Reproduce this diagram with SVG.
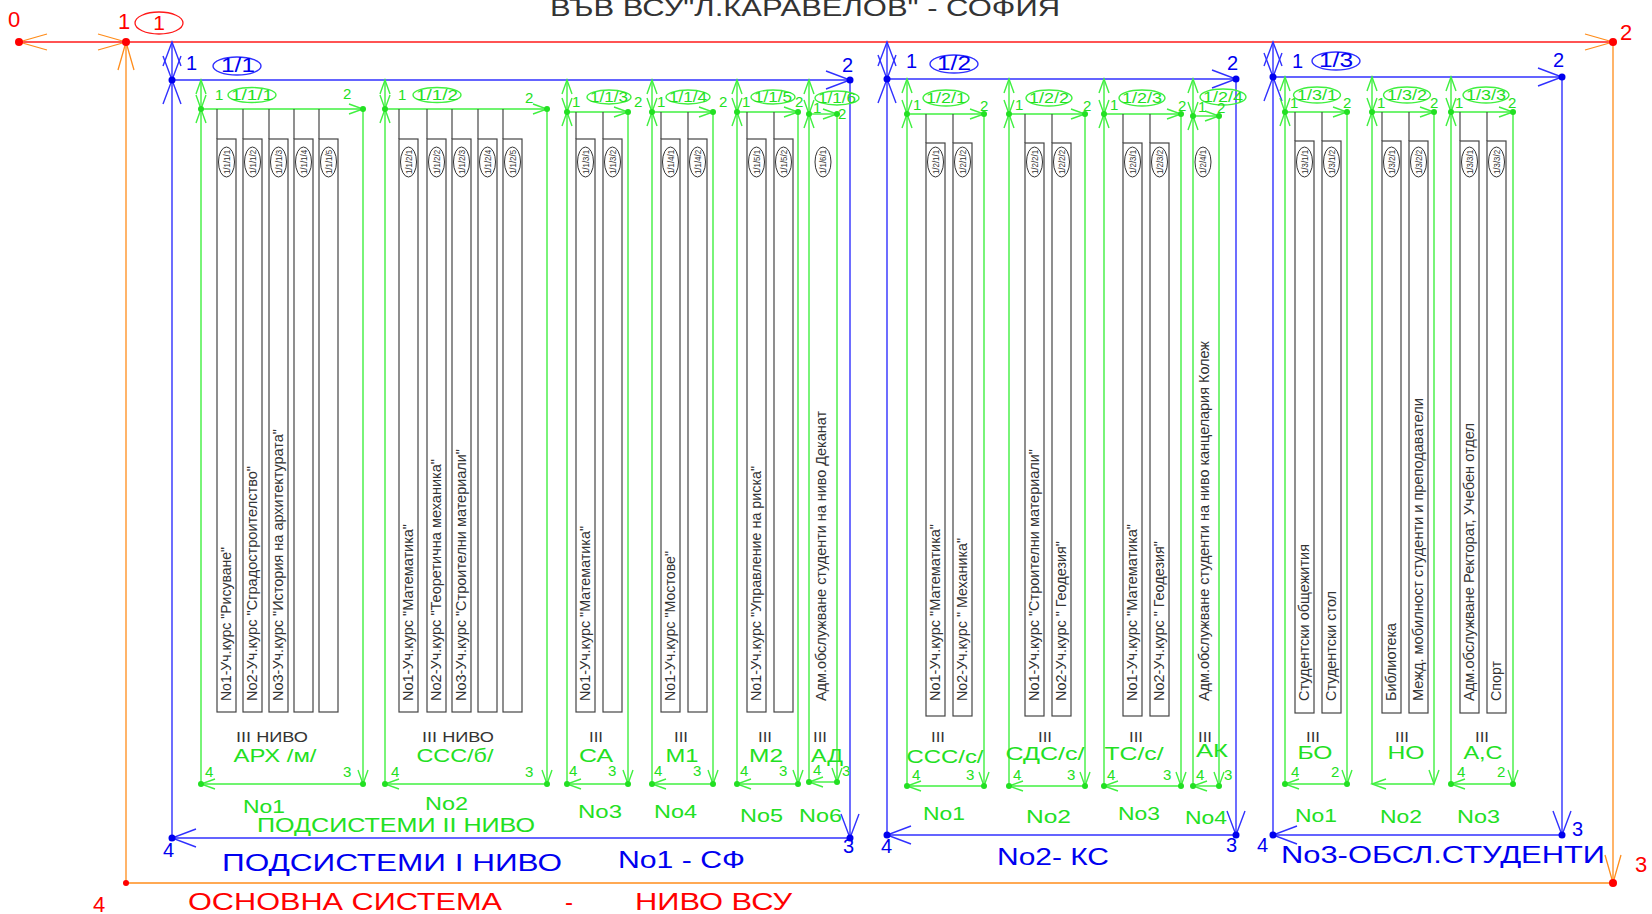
<svg xmlns="http://www.w3.org/2000/svg" width="1652" height="914" viewBox="0 0 1652 914">
<style>
.r{stroke:#ff1a1a;fill:none;stroke-width:1.3}
.o{stroke:#ff8c1a;fill:none;stroke-width:1.3}
.b{stroke:#3030ff;fill:none;stroke-width:1.4}
.g{stroke:#40f040;fill:none;stroke-width:1.4}
.k{stroke:#454545;fill:none;stroke-width:1.2}
.ke{stroke:#333;fill:none;stroke-width:1}
text{font-family:"Liberation Sans",Arial,sans-serif}
.tr{fill:#ff0000;font-size:24px}
.tb{fill:#0000f0;font-size:24px}
.tb2{fill:#0000f0;font-size:20px}
.tg{fill:#22e022;font-size:19px}
.tg2{fill:#22e022;font-size:15px}
.tk{fill:#333;font-size:15px}
.tv{fill:#333;font-size:15.5px}
.te{fill:#333;font-size:9px}
.dg{fill:#22e022}.db{fill:#0000ee}.dr{fill:#ff0000}
.m{text-anchor:middle}
</style>
<defs>
<marker id="ao" viewBox="-30 -10 32 20" refX="0" refY="0" markerWidth="32" markerHeight="20" markerUnits="userSpaceOnUse" orient="auto-start-reverse"><path d="M-28,-8 L0,0 L-28,8" class="o"/></marker>
<marker id="ab" viewBox="-26 -11 28 22" refX="0" refY="0" markerWidth="28" markerHeight="22" markerUnits="userSpaceOnUse" orient="auto-start-reverse"><path d="M-24,-9 L0,0 L-24,9" class="b"/></marker>
<marker id="ag" viewBox="-16 -7 18 14" refX="0" refY="0" markerWidth="18" markerHeight="14" markerUnits="userSpaceOnUse" orient="auto-start-reverse"><path d="M-14,-5 L0,0 L-14,5" class="g"/></marker>
</defs>
<rect width="1652" height="914" fill="#fff"/>

<g id="title">
<text x="550" y="16" style="fill:#333;font-size:24px" textLength="510" lengthAdjust="spacingAndGlyphs">ВЪВ ВСУ"Л.КАРАВЕЛОВ" - СОФИЯ</text>
</g>

<g id="node-main">
<path class="r" d="M19,42 H126" marker-start="url(#ao)" marker-end="url(#ao)"/>
<path class="r" d="M126,42 H1613" marker-end="url(#ao)"/>
<path class="o" d="M1613,42 V883" marker-end="url(#ao)"/>
<path class="o" d="M1613,883 H126"/>
<path class="o" d="M126,883 V42" marker-end="url(#ao)"/>
<circle class="dr" cx="19" cy="42" r="4"/><circle class="dr" cx="126" cy="42" r="4"/><circle class="dr" cx="1613" cy="42" r="4"/><circle class="dr" cx="1613" cy="883" r="4"/><circle class="dr" cx="126" cy="883" r="3"/>
<text class="tr" x="8" y="27" style="font-size:22px">0</text>
<text class="tr" x="118" y="29" style="font-size:22px">1</text>
<ellipse class="r" cx="159" cy="23" rx="24" ry="11"/>
<text class="tr m" x="159" y="30" style="font-size:21px">1</text>
<text class="tr" x="1620" y="40" style="font-size:22px">2</text>
<text class="tr" x="1635" y="872" style="font-size:22px">3</text>
<text class="tr" x="93" y="912" style="font-size:22px">4</text>
<text class="tr" x="188" y="910" textLength="314" lengthAdjust="spacingAndGlyphs">ОСНОВНА СИСТЕМА</text>
<text class="tr" x="565" y="910">-</text>
<text class="tr" x="635" y="910" textLength="157" lengthAdjust="spacingAndGlyphs">НИВО ВСУ</text>
</g>

<g id="node-1-1">
<path class="b" d="M172,42 V80" marker-start="url(#ab)" marker-end="url(#ab)"/>
<path class="b" d="M172,80 H850" marker-end="url(#ab)"/>
<path class="b" d="M850,80 V838" marker-end="url(#ab)"/>
<path class="b" d="M850,838 H172" marker-end="url(#ab)"/>
<path class="b" d="M172,838 V80" marker-end="url(#ab)"/>
<circle class="db" cx="172" cy="80" r="3.5"/><circle class="db" cx="850" cy="80" r="3.5"/><circle class="db" cx="850" cy="838" r="3.5"/><circle class="db" cx="172" cy="838" r="3.5"/>
<text class="tb2" x="186" y="70">1</text>
<ellipse class="b" cx="237" cy="66" rx="24" ry="9"/>
<text class="tb2 m" x="238" y="72" textLength="34" lengthAdjust="spacingAndGlyphs">1/1</text>
<text class="tb2" x="842" y="72">2</text>
<text class="tb2" x="843" y="853">3</text>
<text class="tb2" x="163" y="857">4</text>
<text class="tb" x="222" y="871" textLength="340" lengthAdjust="spacingAndGlyphs">ПОДСИСТЕМИ  I НИВО</text>
<text class="tb" x="618" y="868" textLength="127" lengthAdjust="spacingAndGlyphs">No1 - СФ</text>
<text class="tg" x="257" y="832" style="font-size:20px" textLength="278" lengthAdjust="spacingAndGlyphs">ПОДСИСТЕМИ  II НИВО</text>
</g>

<g id="node-1-2">
<path class="b" d="M887,42 V79" marker-start="url(#ab)" marker-end="url(#ab)"/>
<path class="b" d="M887,79 H1236" marker-end="url(#ab)"/>
<path class="b" d="M1236,79 V835" marker-end="url(#ab)"/>
<path class="b" d="M1236,835 H887" marker-end="url(#ab)"/>
<path class="b" d="M887,835 V79" marker-end="url(#ab)"/>
<circle class="db" cx="887" cy="79" r="3.5"/><circle class="db" cx="1236" cy="79" r="3.5"/><circle class="db" cx="1236" cy="835" r="3.5"/><circle class="db" cx="887" cy="835" r="3.5"/>
<text class="tb2" x="906" y="68">1</text>
<ellipse class="b" cx="954" cy="64" rx="24" ry="9"/>
<text class="tb2 m" x="954" y="70" textLength="34" lengthAdjust="spacingAndGlyphs">1/2</text>
<text class="tb2" x="1227" y="70">2</text>
<text class="tb2" x="1226" y="852">3</text>
<text class="tb2" x="881" y="853">4</text>
<text class="tb" x="997" y="865" textLength="112" lengthAdjust="spacingAndGlyphs">No2- КС</text>
</g>

<g id="node-1-3">
<path class="b" d="M1273,42 V77" marker-start="url(#ab)" marker-end="url(#ab)"/>
<path class="b" d="M1273,77 H1562" marker-end="url(#ab)"/>
<path class="b" d="M1562,77 V835" marker-end="url(#ab)"/>
<path class="b" d="M1562,835 H1273" marker-end="url(#ab)"/>
<path class="b" d="M1273,835 V77" marker-end="url(#ab)"/>
<circle class="db" cx="1273" cy="77" r="3.5"/><circle class="db" cx="1562" cy="77" r="3.5"/><circle class="db" cx="1562" cy="835" r="3.5"/><circle class="db" cx="1273" cy="835" r="3.5"/>
<text class="tb2" x="1292" y="68">1</text>
<ellipse class="b" cx="1336" cy="61" rx="24" ry="9"/>
<text class="tb2 m" x="1336" y="67" textLength="34" lengthAdjust="spacingAndGlyphs">1/3</text>
<text class="tb2" x="1553" y="67">2</text>
<text class="tb2" x="1572" y="836">3</text>
<text class="tb2" x="1257" y="852">4</text>
<text class="tb" x="1281" y="863" textLength="324" lengthAdjust="spacingAndGlyphs">No3-ОБСЛ.СТУДЕНТИ</text>
</g>

<!-- level II nodes -->
<g id="node-1-1-1">
<path class="g" d="M201,80 V109" marker-start="url(#ag)" marker-end="url(#ag)"/>
<path class="g" d="M201,109 H363" marker-end="url(#ag)"/>
<path class="g" d="M363,109 V784" marker-end="url(#ag)"/>
<path class="g" d="M363,784 H201" marker-end="url(#ag)"/>
<path class="g" d="M201,784 V109" marker-end="url(#ag)"/>
<circle class="dg" cx="201" cy="109" r="3"/><circle class="dg" cx="363" cy="109" r="3"/><circle class="dg" cx="363" cy="784" r="3"/><circle class="dg" cx="201" cy="784" r="3"/>
<text class="tg2" x="215" y="100">1</text>
<ellipse class="g" cx="252" cy="95" rx="24" ry="7.5"/>
<text class="tg2 m" x="252" y="100" textLength="42" lengthAdjust="spacingAndGlyphs">1/1/1</text>
<text class="tg2" x="343" y="99">2</text>
<text class="tg2" x="205" y="777">4</text><text class="tg2" x="343" y="777">3</text>
<text class="tk m" x="272" y="742" textLength="72" lengthAdjust="spacingAndGlyphs">III НИВО</text>
<text class="tg m" x="275" y="762" textLength="83" lengthAdjust="spacingAndGlyphs">АРХ /м/</text>
<text class="tg" x="243" y="813" style="font-size:18px" textLength="42" lengthAdjust="spacingAndGlyphs">No1</text>
</g>

<g id="node-1-1-2">
<path class="g" d="M385,80 V109" marker-start="url(#ag)" marker-end="url(#ag)"/>
<path class="g" d="M385,109 H547" marker-end="url(#ag)"/>
<path class="g" d="M547,109 V784" marker-end="url(#ag)"/>
<path class="g" d="M547,784 H385" marker-end="url(#ag)"/>
<path class="g" d="M385,784 V109" marker-end="url(#ag)"/>
<circle class="dg" cx="385" cy="109" r="3"/><circle class="dg" cx="547" cy="109" r="3"/><circle class="dg" cx="547" cy="784" r="3"/><circle class="dg" cx="385" cy="784" r="3"/>
<text class="tg2" x="398" y="100">1</text>
<ellipse class="g" cx="437" cy="95" rx="24" ry="7.5"/>
<text class="tg2 m" x="437" y="100" textLength="42" lengthAdjust="spacingAndGlyphs">1/1/2</text>
<text class="tg2" x="525" y="103">2</text>
<text class="tg2" x="391" y="777">4</text><text class="tg2" x="525" y="777">3</text>
<text class="tk m" x="458" y="742" textLength="72" lengthAdjust="spacingAndGlyphs">III НИВО</text>
<text class="tg m" x="455" y="762" textLength="77" lengthAdjust="spacingAndGlyphs">ССС/б/</text>
<text class="tg" x="425" y="810" style="font-size:18px" textLength="43" lengthAdjust="spacingAndGlyphs">No2</text>
</g>

<g id="node-1-1-3">
<path class="g" d="M567,80 V112" marker-start="url(#ag)" marker-end="url(#ag)"/>
<path class="g" d="M567,112 H628" marker-end="url(#ag)"/>
<path class="g" d="M628,112 V784" marker-end="url(#ag)"/>
<path class="g" d="M628,784 H567" marker-end="url(#ag)"/>
<path class="g" d="M567,784 V112" marker-end="url(#ag)"/>
<circle class="dg" cx="567" cy="112" r="3"/><circle class="dg" cx="628" cy="112" r="3"/><circle class="dg" cx="628" cy="784" r="3"/><circle class="dg" cx="567" cy="784" r="3"/>
<text class="tg2" x="572" y="107">1</text>
<ellipse class="g" cx="609" cy="97" rx="22" ry="7"/>
<text class="tg2 m" x="609" y="102" textLength="38" lengthAdjust="spacingAndGlyphs">1/1/3</text>
<text class="tg2" x="634" y="107">2</text>
<text class="tg2" x="569" y="776">4</text><text class="tg2" x="608" y="776">3</text>
<text class="tk m" x="596" y="742" textLength="14" lengthAdjust="spacingAndGlyphs">III</text>
<text class="tg m" x="596" y="762" textLength="34" lengthAdjust="spacingAndGlyphs">СА</text>
<text class="tg" x="578" y="818" style="font-size:18px" textLength="44" lengthAdjust="spacingAndGlyphs">No3</text>
</g>

<g id="node-1-1-4">
<path class="g" d="M652,80 V112" marker-start="url(#ag)" marker-end="url(#ag)"/>
<path class="g" d="M652,112 H713" marker-end="url(#ag)"/>
<path class="g" d="M713,112 V784" marker-end="url(#ag)"/>
<path class="g" d="M713,784 H652" marker-end="url(#ag)"/>
<path class="g" d="M652,784 V112" marker-end="url(#ag)"/>
<circle class="dg" cx="652" cy="112" r="3"/><circle class="dg" cx="713" cy="112" r="3"/><circle class="dg" cx="713" cy="784" r="3"/><circle class="dg" cx="652" cy="784" r="3"/>
<text class="tg2" x="657" y="107">1</text>
<ellipse class="g" cx="688" cy="97" rx="22" ry="7"/>
<text class="tg2 m" x="688" y="102" textLength="38" lengthAdjust="spacingAndGlyphs">1/1/4</text>
<text class="tg2" x="719" y="107">2</text>
<text class="tg2" x="654" y="776">4</text><text class="tg2" x="693" y="776">3</text>
<text class="tk m" x="681" y="742" textLength="14" lengthAdjust="spacingAndGlyphs">III</text>
<text class="tg m" x="682" y="762" textLength="33" lengthAdjust="spacingAndGlyphs">М1</text>
<text class="tg" x="654" y="818" style="font-size:18px" textLength="43" lengthAdjust="spacingAndGlyphs">No4</text>
</g>

<g id="node-1-1-5">
<path class="g" d="M737,80 V112" marker-start="url(#ag)" marker-end="url(#ag)"/>
<path class="g" d="M737,112 H798" marker-end="url(#ag)"/>
<path class="g" d="M798,112 V784" marker-end="url(#ag)"/>
<path class="g" d="M798,784 H737" marker-end="url(#ag)"/>
<path class="g" d="M737,784 V112" marker-end="url(#ag)"/>
<circle class="dg" cx="737" cy="112" r="3"/><circle class="dg" cx="798" cy="112" r="3"/><circle class="dg" cx="798" cy="784" r="3"/><circle class="dg" cx="737" cy="784" r="3"/>
<text class="tg2" x="742" y="107">1</text>
<ellipse class="g" cx="773" cy="97" rx="22" ry="7"/>
<text class="tg2 m" x="773" y="102" textLength="38" lengthAdjust="spacingAndGlyphs">1/1/5</text>
<text class="tg2" x="795" y="107">2</text>
<text class="tg2" x="740" y="776">4</text><text class="tg2" x="779" y="776">3</text>
<text class="tk m" x="765" y="742" textLength="14" lengthAdjust="spacingAndGlyphs">III</text>
<text class="tg m" x="766" y="762" textLength="34" lengthAdjust="spacingAndGlyphs">М2</text>
<text class="tg" x="740" y="822" style="font-size:18px" textLength="43" lengthAdjust="spacingAndGlyphs">No5</text>
</g>

<g id="node-1-1-6">
<path class="g" d="M809,80 V114" marker-start="url(#ag)" marker-end="url(#ag)"/>
<path class="g" d="M809,114 H837" marker-end="url(#ag)"/>
<path class="g" d="M837,114 V782" marker-end="url(#ag)"/>
<path class="g" d="M837,782 H809" marker-end="url(#ag)"/>
<path class="g" d="M809,782 V114" marker-end="url(#ag)"/>
<circle class="dg" cx="809" cy="114" r="3"/><circle class="dg" cx="837" cy="114" r="3"/><circle class="dg" cx="837" cy="782" r="3"/><circle class="dg" cx="809" cy="782" r="3"/>
<text class="tg2" x="813" y="113">1</text>
<ellipse class="g" cx="837" cy="98" rx="22" ry="7"/>
<text class="tg2 m" x="837" y="103" textLength="38" lengthAdjust="spacingAndGlyphs">1/1/6</text>
<text class="tg2" x="838" y="119">2</text>
<text class="tg2" x="813" y="775">4</text><text class="tg2" x="842" y="776">3</text>
<text class="tk m" x="820" y="742" textLength="14" lengthAdjust="spacingAndGlyphs">III</text>
<text class="tg m" x="827" y="762" textLength="32" lengthAdjust="spacingAndGlyphs">АД</text>
<text class="tg" x="799" y="822" style="font-size:18px" textLength="43" lengthAdjust="spacingAndGlyphs">No6</text>
</g>

<g id="node-1-2-1">
<path class="g" d="M907,79 V114" marker-start="url(#ag)" marker-end="url(#ag)"/>
<path class="g" d="M907,114 H984" marker-end="url(#ag)"/>
<path class="g" d="M984,114 V786" marker-end="url(#ag)"/>
<path class="g" d="M984,786 H907" marker-end="url(#ag)"/>
<path class="g" d="M907,786 V114" marker-end="url(#ag)"/>
<circle class="dg" cx="907" cy="114" r="3"/><circle class="dg" cx="984" cy="114" r="3"/><circle class="dg" cx="984" cy="786" r="3"/><circle class="dg" cx="907" cy="786" r="3"/>
<text class="tg2" x="913" y="110">1</text>
<ellipse class="g" cx="946" cy="98" rx="23" ry="8"/>
<text class="tg2 m" x="946" y="103" textLength="40" lengthAdjust="spacingAndGlyphs">1/2/1</text>
<text class="tg2" x="980" y="111">2</text>
<text class="tg2" x="912" y="780">4</text><text class="tg2" x="966" y="780">3</text>
<text class="tk m" x="938" y="742" textLength="14" lengthAdjust="spacingAndGlyphs">III</text>
<text class="tg m" x="945" y="763" textLength="77" lengthAdjust="spacingAndGlyphs">ССС/с/</text>
<text class="tg" x="923" y="820" style="font-size:18px" textLength="42" lengthAdjust="spacingAndGlyphs">No1</text>
</g>

<g id="node-1-2-2">
<path class="g" d="M1009,79 V114" marker-start="url(#ag)" marker-end="url(#ag)"/>
<path class="g" d="M1009,114 H1085" marker-end="url(#ag)"/>
<path class="g" d="M1085,114 V786" marker-end="url(#ag)"/>
<path class="g" d="M1085,786 H1009" marker-end="url(#ag)"/>
<path class="g" d="M1009,786 V114" marker-end="url(#ag)"/>
<circle class="dg" cx="1009" cy="114" r="3"/><circle class="dg" cx="1085" cy="114" r="3"/><circle class="dg" cx="1085" cy="786" r="3"/><circle class="dg" cx="1009" cy="786" r="3"/>
<text class="tg2" x="1015" y="110">1</text>
<ellipse class="g" cx="1049" cy="98" rx="23" ry="8"/>
<text class="tg2 m" x="1049" y="103" textLength="40" lengthAdjust="spacingAndGlyphs">1/2/2</text>
<text class="tg2" x="1083" y="111">2</text>
<text class="tg2" x="1013" y="780">4</text><text class="tg2" x="1067" y="780">3</text>
<text class="tk m" x="1045" y="742" textLength="14" lengthAdjust="spacingAndGlyphs">III</text>
<text class="tg m" x="1045" y="760" textLength="79" lengthAdjust="spacingAndGlyphs">СДС/с/</text>
<text class="tg" x="1026" y="823" style="font-size:18px" textLength="45" lengthAdjust="spacingAndGlyphs">No2</text>
</g>

<g id="node-1-2-3">
<path class="g" d="M1104,79 V114" marker-start="url(#ag)" marker-end="url(#ag)"/>
<path class="g" d="M1104,114 H1181" marker-end="url(#ag)"/>
<path class="g" d="M1181,114 V786" marker-end="url(#ag)"/>
<path class="g" d="M1181,786 H1104" marker-end="url(#ag)"/>
<path class="g" d="M1104,786 V114" marker-end="url(#ag)"/>
<circle class="dg" cx="1104" cy="114" r="3"/><circle class="dg" cx="1181" cy="114" r="3"/><circle class="dg" cx="1181" cy="786" r="3"/><circle class="dg" cx="1104" cy="786" r="3"/>
<text class="tg2" x="1110" y="110">1</text>
<ellipse class="g" cx="1142" cy="98" rx="23" ry="8"/>
<text class="tg2 m" x="1142" y="103" textLength="40" lengthAdjust="spacingAndGlyphs">1/2/3</text>
<text class="tg2" x="1178" y="111">2</text>
<text class="tg2" x="1107" y="780">4</text><text class="tg2" x="1163" y="780">3</text>
<text class="tk m" x="1136" y="742" textLength="14" lengthAdjust="spacingAndGlyphs">III</text>
<text class="tg m" x="1134" y="760" textLength="59" lengthAdjust="spacingAndGlyphs">ТС/с/</text>
<text class="tg" x="1118" y="820" style="font-size:18px" textLength="42" lengthAdjust="spacingAndGlyphs">No3</text>
</g>

<g id="node-1-2-4">
<path class="g" d="M1193,79 V116" marker-start="url(#ag)" marker-end="url(#ag)"/>
<path class="g" d="M1193,116 H1219" marker-end="url(#ag)"/>
<path class="g" d="M1219,116 V786" marker-end="url(#ag)"/>
<path class="g" d="M1219,786 H1193" marker-end="url(#ag)"/>
<path class="g" d="M1193,786 V116" marker-end="url(#ag)"/>
<circle class="dg" cx="1193" cy="116" r="3"/><circle class="dg" cx="1219" cy="116" r="3"/><circle class="dg" cx="1219" cy="786" r="3"/><circle class="dg" cx="1193" cy="786" r="3"/>
<text class="tg2" x="1198" y="112">1</text>
<ellipse class="g" cx="1223" cy="97" rx="23" ry="8"/>
<text class="tg2 m" x="1223" y="102" textLength="40" lengthAdjust="spacingAndGlyphs">1/2/4</text>
<text class="tg2" x="1217" y="113">2</text>
<text class="tg2" x="1196" y="780">4</text><text class="tg2" x="1224" y="780">3</text>
<text class="tk m" x="1205" y="742" textLength="14" lengthAdjust="spacingAndGlyphs">III</text>
<text class="tg m" x="1212" y="757" textLength="32" lengthAdjust="spacingAndGlyphs">АК</text>
<text class="tg" x="1185" y="824" style="font-size:18px" textLength="42" lengthAdjust="spacingAndGlyphs">No4</text>
</g>

<g id="node-1-3-1">
<path class="g" d="M1285,77 V112" marker-start="url(#ag)" marker-end="url(#ag)"/>
<path class="g" d="M1285,112 H1347" marker-end="url(#ag)"/>
<path class="g" d="M1347,112 V784" marker-end="url(#ag)"/>
<path class="g" d="M1347,784 H1285" marker-end="url(#ag)"/>
<path class="g" d="M1285,784 V112" marker-end="url(#ag)"/>
<circle class="dg" cx="1285" cy="112" r="3"/><circle class="dg" cx="1347" cy="112" r="3"/><circle class="dg" cx="1347" cy="784" r="3"/><circle class="dg" cx="1285" cy="784" r="3"/>
<text class="tg2" x="1290" y="108">1</text>
<ellipse class="g" cx="1317" cy="95" rx="23.5" ry="8"/>
<text class="tg2 m" x="1317" y="100" textLength="40" lengthAdjust="spacingAndGlyphs">1/3/1</text>
<text class="tg2" x="1343" y="108">2</text>
<text class="tg2" x="1291" y="777">4</text><text class="tg2" x="1331" y="777">2</text>
<text class="tk m" x="1313" y="742" textLength="14" lengthAdjust="spacingAndGlyphs">III</text>
<text class="tg m" x="1315" y="759" textLength="35" lengthAdjust="spacingAndGlyphs">БО</text>
<text class="tg" x="1295" y="822" style="font-size:18px" textLength="42" lengthAdjust="spacingAndGlyphs">No1</text>
</g>

<g id="node-1-3-2">
<path class="g" d="M1372,77 V112" marker-start="url(#ag)" marker-end="url(#ag)"/>
<path class="g" d="M1372,112 H1434" marker-end="url(#ag)"/>
<path class="g" d="M1434,112 V784" marker-end="url(#ag)"/>
<path class="g" d="M1434,784 H1372" marker-end="url(#ag)"/>
<path class="g" d="M1372,784 V112" marker-end="url(#ag)"/>
<circle class="dg" cx="1372" cy="112" r="3"/><circle class="dg" cx="1434" cy="112" r="3"/>
<text class="tg2" x="1377" y="108">1</text>
<ellipse class="g" cx="1407" cy="95" rx="23.5" ry="8"/>
<text class="tg2 m" x="1407" y="100" textLength="40" lengthAdjust="spacingAndGlyphs">1/3/2</text>
<text class="tg2" x="1430" y="108">2</text>
<text class="tk m" x="1402" y="742" textLength="14" lengthAdjust="spacingAndGlyphs">III</text>
<text class="tg m" x="1406" y="759" textLength="37" lengthAdjust="spacingAndGlyphs">НО</text>
<text class="tg" x="1380" y="823" style="font-size:18px" textLength="42" lengthAdjust="spacingAndGlyphs">No2</text>
</g>

<g id="node-1-3-3">
<path class="g" d="M1451,77 V112" marker-start="url(#ag)" marker-end="url(#ag)"/>
<path class="g" d="M1451,112 H1513" marker-end="url(#ag)"/>
<path class="g" d="M1513,112 V784" marker-end="url(#ag)"/>
<path class="g" d="M1513,784 H1451" marker-end="url(#ag)"/>
<path class="g" d="M1451,784 V112" marker-end="url(#ag)"/>
<circle class="dg" cx="1451" cy="112" r="3"/><circle class="dg" cx="1513" cy="112" r="3"/><circle class="dg" cx="1513" cy="784" r="3"/><circle class="dg" cx="1451" cy="784" r="3"/>
<text class="tg2" x="1455" y="108">1</text>
<ellipse class="g" cx="1486" cy="95" rx="23" ry="8"/>
<text class="tg2 m" x="1486" y="100" textLength="40" lengthAdjust="spacingAndGlyphs">1/3/3</text>
<text class="tg2" x="1508" y="108">2</text>
<text class="tg2" x="1457" y="777">4</text><text class="tg2" x="1497" y="777">2</text>
<text class="tk m" x="1482" y="742" textLength="14" lengthAdjust="spacingAndGlyphs">III</text>
<text class="tg m" x="1483" y="759" textLength="39" lengthAdjust="spacingAndGlyphs">А,С</text>
<text class="tg" x="1457" y="823" style="font-size:18px" textLength="43" lengthAdjust="spacingAndGlyphs">No3</text>
</g>

<!-- level III nodes -->
<g id="node-1-1-1-1"><path class="k" d="M217,109 V139"/><rect class="k" x="217" y="139" width="19" height="573"/><ellipse class="ke" cx="226.5" cy="162" rx="8" ry="15"/><text class="te m" x="226.5" y="165" transform="rotate(-90 226.5 162)" textLength="24" lengthAdjust="spacingAndGlyphs">1/1/1/1</text><text class="tv" x="231" y="701" transform="rotate(-90 231 701)" textLength="154" lengthAdjust="spacingAndGlyphs">No1-Уч.курс "Рисуване"</text></g>
<g id="node-1-1-1-2"><path class="k" d="M243,109 V139"/><rect class="k" x="243" y="139" width="19" height="573"/><ellipse class="ke" cx="252.5" cy="162" rx="8" ry="15"/><text class="te m" x="252.5" y="165" transform="rotate(-90 252.5 162)" textLength="24" lengthAdjust="spacingAndGlyphs">1/1/1/2</text><text class="tv" x="257" y="701" transform="rotate(-90 257 701)" textLength="235" lengthAdjust="spacingAndGlyphs">No2-Уч.курс "Сградостроителство"</text></g>
<g id="node-1-1-1-3"><path class="k" d="M269,109 V139"/><rect class="k" x="269" y="139" width="19" height="573"/><ellipse class="ke" cx="278.5" cy="162" rx="8" ry="15"/><text class="te m" x="278.5" y="165" transform="rotate(-90 278.5 162)" textLength="24" lengthAdjust="spacingAndGlyphs">1/1/1/3</text><text class="tv" x="283" y="701" transform="rotate(-90 283 701)" textLength="272" lengthAdjust="spacingAndGlyphs">No3-Уч.курс "История на архитектурата"</text></g>
<g id="node-1-1-1-4"><path class="k" d="M294,109 V139"/><rect class="k" x="294" y="139" width="19" height="573"/><ellipse class="ke" cx="303.5" cy="162" rx="8" ry="15"/><text class="te m" x="303.5" y="165" transform="rotate(-90 303.5 162)" textLength="24" lengthAdjust="spacingAndGlyphs">1/1/1/4</text></g>
<g id="node-1-1-1-5"><path class="k" d="M319,109 V139"/><rect class="k" x="319" y="139" width="19" height="573"/><ellipse class="ke" cx="328.5" cy="162" rx="8" ry="15"/><text class="te m" x="328.5" y="165" transform="rotate(-90 328.5 162)" textLength="24" lengthAdjust="spacingAndGlyphs">1/1/1/5</text></g>

<g id="node-1-1-2-1"><path class="k" d="M399,109 V139"/><rect class="k" x="399" y="139" width="19" height="573"/><ellipse class="ke" cx="408.5" cy="162" rx="8" ry="15"/><text class="te m" x="408.5" y="165" transform="rotate(-90 408.5 162)" textLength="24" lengthAdjust="spacingAndGlyphs">1/1/2/1</text><text class="tv" x="413" y="701" transform="rotate(-90 413 701)" textLength="177" lengthAdjust="spacingAndGlyphs">No1-Уч.курс "Математика"</text></g>
<g id="node-1-1-2-2"><path class="k" d="M427,109 V139"/><rect class="k" x="427" y="139" width="19" height="573"/><ellipse class="ke" cx="436.5" cy="162" rx="8" ry="15"/><text class="te m" x="436.5" y="165" transform="rotate(-90 436.5 162)" textLength="24" lengthAdjust="spacingAndGlyphs">1/1/2/2</text><text class="tv" x="441" y="701" transform="rotate(-90 441 701)" textLength="242" lengthAdjust="spacingAndGlyphs">No2-Уч.курс "Теоретична механика"</text></g>
<g id="node-1-1-2-3"><path class="k" d="M452,109 V139"/><rect class="k" x="452" y="139" width="19" height="573"/><ellipse class="ke" cx="461.5" cy="162" rx="8" ry="15"/><text class="te m" x="461.5" y="165" transform="rotate(-90 461.5 162)" textLength="24" lengthAdjust="spacingAndGlyphs">1/1/2/3</text><text class="tv" x="466" y="701" transform="rotate(-90 466 701)" textLength="252" lengthAdjust="spacingAndGlyphs">No3-Уч.курс "Строителни материали"</text></g>
<g id="node-1-1-2-4"><path class="k" d="M478,109 V139"/><rect class="k" x="478" y="139" width="19" height="573"/><ellipse class="ke" cx="487.5" cy="162" rx="8" ry="15"/><text class="te m" x="487.5" y="165" transform="rotate(-90 487.5 162)" textLength="24" lengthAdjust="spacingAndGlyphs">1/1/2/4</text></g>
<g id="node-1-1-2-5"><path class="k" d="M503,109 V139"/><rect class="k" x="503" y="139" width="19" height="573"/><ellipse class="ke" cx="512.5" cy="162" rx="8" ry="15"/><text class="te m" x="512.5" y="165" transform="rotate(-90 512.5 162)" textLength="24" lengthAdjust="spacingAndGlyphs">1/1/2/5</text></g>

<g id="node-1-1-3-1"><path class="k" d="M576,112 V139"/><rect class="k" x="576" y="139" width="19" height="573"/><ellipse class="ke" cx="585.5" cy="162" rx="8" ry="15"/><text class="te m" x="585.5" y="165" transform="rotate(-90 585.5 162)" textLength="24" lengthAdjust="spacingAndGlyphs">1/1/3/1</text><text class="tv" x="590" y="701" transform="rotate(-90 590 701)" textLength="175" lengthAdjust="spacingAndGlyphs">No1-Уч.курс "Математика"</text></g>
<g id="node-1-1-3-2"><path class="k" d="M603,112 V139"/><rect class="k" x="603" y="139" width="19" height="573"/><ellipse class="ke" cx="612.5" cy="162" rx="8" ry="15"/><text class="te m" x="612.5" y="165" transform="rotate(-90 612.5 162)" textLength="24" lengthAdjust="spacingAndGlyphs">1/1/3/2</text></g>
<g id="node-1-1-4-1"><path class="k" d="M661,112 V139"/><rect class="k" x="661" y="139" width="19" height="573"/><ellipse class="ke" cx="670.5" cy="162" rx="8" ry="15"/><text class="te m" x="670.5" y="165" transform="rotate(-90 670.5 162)" textLength="24" lengthAdjust="spacingAndGlyphs">1/1/4/1</text><text class="tv" x="675" y="701" transform="rotate(-90 675 701)" textLength="150" lengthAdjust="spacingAndGlyphs">No1-Уч.курс "Мостове"</text></g>
<g id="node-1-1-4-2"><path class="k" d="M688,112 V139"/><rect class="k" x="688" y="139" width="19" height="573"/><ellipse class="ke" cx="697.5" cy="162" rx="8" ry="15"/><text class="te m" x="697.5" y="165" transform="rotate(-90 697.5 162)" textLength="24" lengthAdjust="spacingAndGlyphs">1/1/4/2</text></g>
<g id="node-1-1-5-1"><path class="k" d="M747,112 V139"/><rect class="k" x="747" y="139" width="19" height="573"/><ellipse class="ke" cx="756.5" cy="162" rx="8" ry="15"/><text class="te m" x="756.5" y="165" transform="rotate(-90 756.5 162)" textLength="24" lengthAdjust="spacingAndGlyphs">1/1/5/1</text><text class="tv" x="761" y="701" transform="rotate(-90 761 701)" textLength="235" lengthAdjust="spacingAndGlyphs">No1-Уч.курс "Управление на риска"</text></g>
<g id="node-1-1-5-2"><path class="k" d="M774,112 V139"/><rect class="k" x="774" y="139" width="19" height="573"/><ellipse class="ke" cx="783.5" cy="162" rx="8" ry="15"/><text class="te m" x="783.5" y="165" transform="rotate(-90 783.5 162)" textLength="24" lengthAdjust="spacingAndGlyphs">1/1/5/2</text></g>
<g id="node-1-1-6-1"><ellipse class="ke" cx="823" cy="162" rx="8" ry="15"/><text class="te m" x="823" y="165" transform="rotate(-90 823 162)" textLength="24" lengthAdjust="spacingAndGlyphs">1/1/6/1</text><text class="tv" x="826" y="701" transform="rotate(-90 826 701)" textLength="290" lengthAdjust="spacingAndGlyphs">Адм.обслужване студенти на ниво Деканат</text></g>

<g id="node-1-2-1-1"><path class="k" d="M926,114 V143"/><rect class="k" x="926" y="143" width="19" height="573"/><ellipse class="ke" cx="935.5" cy="162" rx="8" ry="15"/><text class="te m" x="935.5" y="165" transform="rotate(-90 935.5 162)" textLength="24" lengthAdjust="spacingAndGlyphs">1/2/1/1</text><text class="tv" x="940" y="701" transform="rotate(-90 940 701)" textLength="177" lengthAdjust="spacingAndGlyphs">No1-Уч.курс "Математика"</text></g>
<g id="node-1-2-1-2"><path class="k" d="M953,114 V143"/><rect class="k" x="953" y="143" width="19" height="573"/><ellipse class="ke" cx="962.5" cy="162" rx="8" ry="15"/><text class="te m" x="962.5" y="165" transform="rotate(-90 962.5 162)" textLength="24" lengthAdjust="spacingAndGlyphs">1/2/1/2</text><text class="tv" x="967" y="701" transform="rotate(-90 967 701)" textLength="163" lengthAdjust="spacingAndGlyphs">No2-Уч.курс " Механика"</text></g>
<g id="node-1-2-2-1"><path class="k" d="M1025,114 V143"/><rect class="k" x="1025" y="143" width="19" height="573"/><ellipse class="ke" cx="1034.5" cy="162" rx="8" ry="15"/><text class="te m" x="1034.5" y="165" transform="rotate(-90 1034.5 162)" textLength="24" lengthAdjust="spacingAndGlyphs">1/2/2/1</text><text class="tv" x="1039" y="701" transform="rotate(-90 1039 701)" textLength="252" lengthAdjust="spacingAndGlyphs">No1-Уч.курс "Строителни материали"</text></g>
<g id="node-1-2-2-2"><path class="k" d="M1052,114 V143"/><rect class="k" x="1052" y="143" width="19" height="573"/><ellipse class="ke" cx="1061.5" cy="162" rx="8" ry="15"/><text class="te m" x="1061.5" y="165" transform="rotate(-90 1061.5 162)" textLength="24" lengthAdjust="spacingAndGlyphs">1/2/2/2</text><text class="tv" x="1066" y="701" transform="rotate(-90 1066 701)" textLength="160" lengthAdjust="spacingAndGlyphs">No2-Уч.курс " Геодезия"</text></g>
<g id="node-1-2-3-1"><path class="k" d="M1123,114 V143"/><rect class="k" x="1123" y="143" width="19" height="573"/><ellipse class="ke" cx="1132.5" cy="162" rx="8" ry="15"/><text class="te m" x="1132.5" y="165" transform="rotate(-90 1132.5 162)" textLength="24" lengthAdjust="spacingAndGlyphs">1/2/3/1</text><text class="tv" x="1137" y="701" transform="rotate(-90 1137 701)" textLength="177" lengthAdjust="spacingAndGlyphs">No1-Уч.курс "Математика"</text></g>
<g id="node-1-2-3-2"><path class="k" d="M1150,114 V143"/><rect class="k" x="1150" y="143" width="19" height="573"/><ellipse class="ke" cx="1159.5" cy="162" rx="8" ry="15"/><text class="te m" x="1159.5" y="165" transform="rotate(-90 1159.5 162)" textLength="24" lengthAdjust="spacingAndGlyphs">1/2/3/2</text><text class="tv" x="1164" y="701" transform="rotate(-90 1164 701)" textLength="160" lengthAdjust="spacingAndGlyphs">No2-Уч.курс " Геодезия"</text></g>
<g id="node-1-2-4-1"><ellipse class="ke" cx="1203" cy="162" rx="8" ry="15"/><text class="te m" x="1203" y="165" transform="rotate(-90 1203 162)" textLength="24" lengthAdjust="spacingAndGlyphs">1/2/4/1</text><text class="tv" x="1209" y="701" transform="rotate(-90 1209 701)" textLength="360" lengthAdjust="spacingAndGlyphs">Адм.обслужване студенти на ниво канцелария Колеж</text></g>

<g id="node-1-3-1-1"><path class="k" d="M1295,112 V141"/><rect class="k" x="1295" y="141" width="19" height="572"/><ellipse class="ke" cx="1304.5" cy="162" rx="8" ry="15"/><text class="te m" x="1304.5" y="165" transform="rotate(-90 1304.5 162)" textLength="24" lengthAdjust="spacingAndGlyphs">1/3/1/1</text><text class="tv" x="1309" y="701" transform="rotate(-90 1309 701)" textLength="157" lengthAdjust="spacingAndGlyphs">Студентски общежития</text></g>
<g id="node-1-3-1-2"><path class="k" d="M1322,112 V141"/><rect class="k" x="1322" y="141" width="19" height="572"/><ellipse class="ke" cx="1331.5" cy="162" rx="8" ry="15"/><text class="te m" x="1331.5" y="165" transform="rotate(-90 1331.5 162)" textLength="24" lengthAdjust="spacingAndGlyphs">1/3/1/2</text><text class="tv" x="1336" y="701" transform="rotate(-90 1336 701)" textLength="110" lengthAdjust="spacingAndGlyphs">Студентски стол</text></g>
<g id="node-1-3-2-1"><path class="k" d="M1382,112 V141"/><rect class="k" x="1382" y="141" width="19" height="572"/><ellipse class="ke" cx="1391.5" cy="162" rx="8" ry="15"/><text class="te m" x="1391.5" y="165" transform="rotate(-90 1391.5 162)" textLength="24" lengthAdjust="spacingAndGlyphs">1/3/2/1</text><text class="tv" x="1396" y="701" transform="rotate(-90 1396 701)" textLength="78" lengthAdjust="spacingAndGlyphs">Библиотека</text></g>
<g id="node-1-3-2-2"><path class="k" d="M1409,112 V141"/><rect class="k" x="1409" y="141" width="19" height="572"/><ellipse class="ke" cx="1418.5" cy="162" rx="8" ry="15"/><text class="te m" x="1418.5" y="165" transform="rotate(-90 1418.5 162)" textLength="24" lengthAdjust="spacingAndGlyphs">1/3/2/2</text><text class="tv" x="1423" y="701" transform="rotate(-90 1423 701)" textLength="303" lengthAdjust="spacingAndGlyphs">Межд. мобилност студенти и преподаватели</text></g>
<g id="node-1-3-3-1"><path class="k" d="M1460,112 V141"/><rect class="k" x="1460" y="141" width="19" height="572"/><ellipse class="ke" cx="1469.5" cy="162" rx="8" ry="15"/><text class="te m" x="1469.5" y="165" transform="rotate(-90 1469.5 162)" textLength="24" lengthAdjust="spacingAndGlyphs">1/3/3/1</text><text class="tv" x="1474" y="701" transform="rotate(-90 1474 701)" textLength="278" lengthAdjust="spacingAndGlyphs">Адм.обслужване Ректорат, Учебен отдел</text></g>
<g id="node-1-3-3-2"><path class="k" d="M1487,112 V141"/><rect class="k" x="1487" y="141" width="19" height="572"/><ellipse class="ke" cx="1496.5" cy="162" rx="8" ry="15"/><text class="te m" x="1496.5" y="165" transform="rotate(-90 1496.5 162)" textLength="24" lengthAdjust="spacingAndGlyphs">1/3/3/2</text><text class="tv" x="1501" y="701" transform="rotate(-90 1501 701)" textLength="40" lengthAdjust="spacingAndGlyphs">Спорт</text></g>
</svg>
